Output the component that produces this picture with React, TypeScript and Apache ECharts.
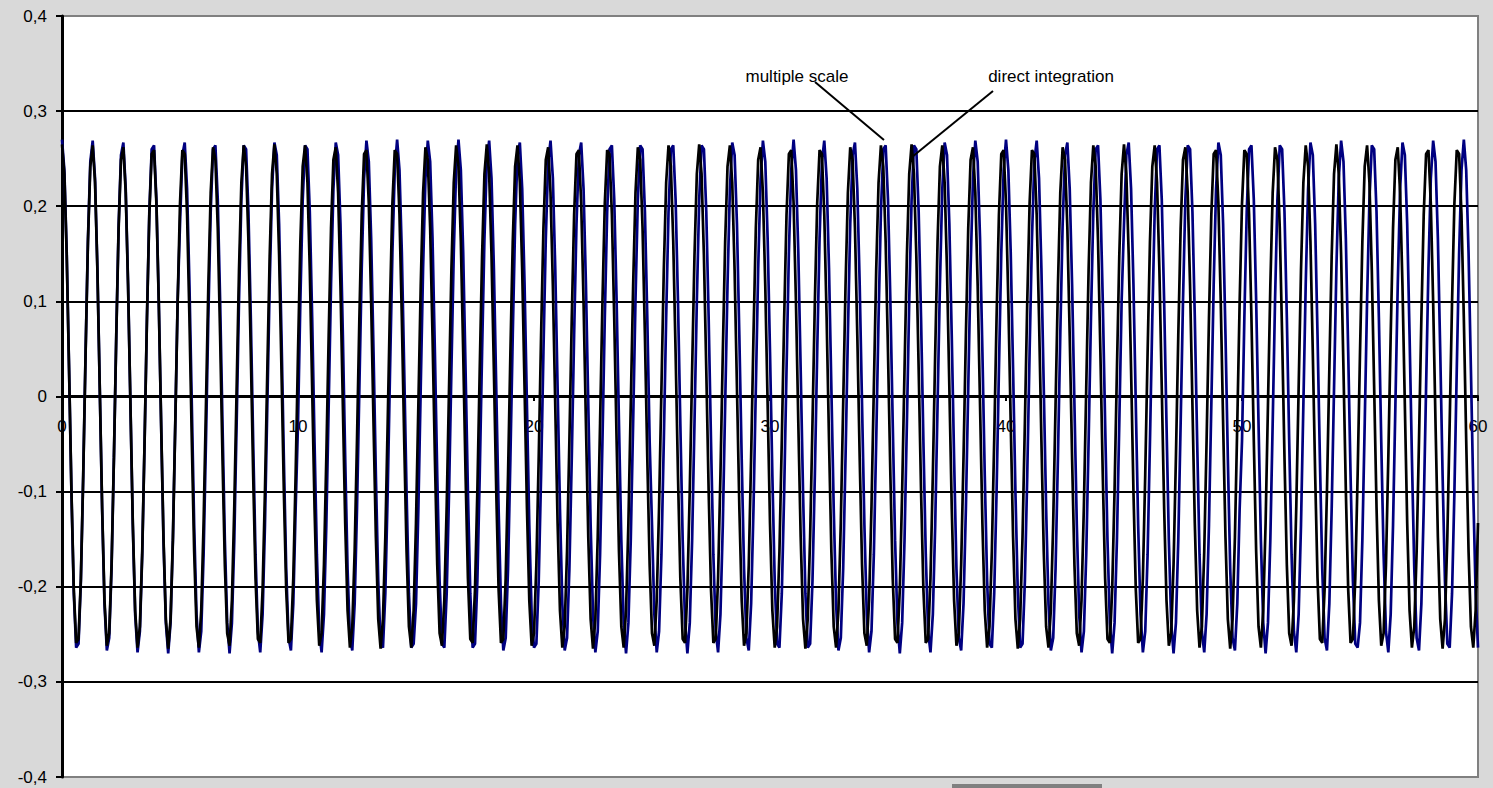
import React, { useEffect, useRef } from "react";
import * as echarts from "echarts";

// sample spacing of the plotted series (x units)
const T_STEP = 0.1;

const X_MIN = 0;
const X_MAX = 60;
const X_INTERVAL = 10;
const Y_MIN = -0.4;
const Y_MAX = 0.4;
const Y_INTERVAL = 0.1;

const ANNOTATIONS = ["multiple scale", "direct integration"];

// black curve, t = 0 .. 60 step 0.1
const BLACK_Y = [
  .265,.234,.148,.028,-.099,-.203,-.259,-.255,-.191,-.082,
  .046,.163,.242,.264,.225,.133,.009,-.116,-.214,-.262,
  -.249,-.177,-.064,.064,.177,.249,.262,.214,.116,-.009,
  -.133,-.225,-.264,-.242,-.163,-.046,.082,.191,.255,.259,
  .203,.099,-.028,-.148,-.234,-.265,-.234,-.148,-.028,.099,
  .203,.259,.255,.191,.082,-.046,-.163,-.242,-.264,-.225,
  -.133,-.009,.116,.214,.262,.249,.177,.064,-.064,-.177,
  -.249,-.262,-.214,-.116,.009,.133,.225,.264,.242,.163,
  .046,-.082,-.191,-.255,-.259,-.203,-.099,.028,.148,.234,
  .265,.234,.148,.028,-.099,-.203,-.259,-.255,-.191,-.082,
  .046,.163,.242,.264,.225,.133,.009,-.116,-.214,-.262,
  -.249,-.177,-.064,.064,.177,.249,.262,.214,.116,-.009,
  -.133,-.225,-.264,-.242,-.163,-.046,.082,.191,.255,.259,
  .203,.099,-.028,-.148,-.234,-.265,-.234,-.148,-.028,.099,
  .203,.259,.255,.191,.082,-.046,-.163,-.242,-.264,-.225,
  -.133,-.009,.116,.214,.262,.249,.177,.064,-.064,-.177,
  -.249,-.262,-.214,-.116,.009,.133,.225,.264,.242,.163,
  .046,-.082,-.191,-.255,-.259,-.203,-.099,.028,.148,.234,
  .265,.234,.148,.028,-.099,-.203,-.259,-.255,-.191,-.082,
  .046,.163,.242,.264,.225,.133,.009,-.116,-.214,-.262,
  -.249,-.177,-.064,.064,.177,.249,.262,.214,.116,-.009,
  -.133,-.225,-.264,-.242,-.163,-.046,.082,.191,.255,.259,
  .203,.099,-.028,-.148,-.234,-.265,-.234,-.148,-.028,.099,
  .203,.259,.255,.191,.082,-.046,-.163,-.242,-.264,-.225,
  -.133,-.009,.116,.214,.262,.249,.177,.064,-.064,-.177,
  -.249,-.262,-.214,-.116,.009,.133,.225,.264,.242,.163,
  .046,-.082,-.191,-.255,-.259,-.203,-.099,.028,.148,.234,
  .265,.234,.148,.028,-.099,-.203,-.259,-.255,-.191,-.082,
  .046,.163,.242,.264,.225,.133,.009,-.116,-.214,-.262,
  -.249,-.177,-.064,.064,.177,.249,.262,.214,.116,-.009,
  -.133,-.225,-.264,-.242,-.163,-.046,.082,.191,.255,.259,
  .203,.099,-.028,-.148,-.234,-.265,-.234,-.148,-.028,.099,
  .203,.259,.255,.191,.082,-.046,-.163,-.242,-.264,-.225,
  -.133,-.009,.116,.214,.262,.249,.177,.064,-.064,-.177,
  -.249,-.262,-.214,-.116,.009,.133,.225,.264,.242,.163,
  .046,-.082,-.191,-.255,-.259,-.203,-.099,.028,.148,.234,
  .265,.234,.148,.028,-.099,-.203,-.259,-.255,-.191,-.082,
  .046,.163,.242,.264,.225,.133,.009,-.116,-.214,-.262,
  -.249,-.177,-.064,.064,.177,.249,.262,.214,.116,-.009,
  -.133,-.225,-.264,-.242,-.163,-.046,.082,.191,.255,.259,
  .203,.099,-.028,-.148,-.234,-.265,-.234,-.148,-.028,.099,
  .203,.259,.255,.191,.082,-.046,-.163,-.242,-.264,-.225,
  -.133,-.009,.116,.214,.262,.249,.177,.064,-.064,-.177,
  -.249,-.262,-.214,-.116,.009,.133,.225,.264,.242,.163,
  .046,-.082,-.191,-.255,-.259,-.203,-.099,.028,.148,.234,
  .265,.234,.148,.028,-.099,-.203,-.259,-.255,-.191,-.082,
  .046,.163,.242,.264,.225,.133,.009,-.116,-.214,-.262,
  -.249,-.177,-.064,.064,.177,.249,.262,.214,.116,-.009,
  -.133,-.225,-.264,-.242,-.163,-.046,.082,.191,.255,.259,
  .203,.099,-.028,-.148,-.234,-.265,-.234,-.148,-.028,.099,
  .203,.259,.255,.191,.082,-.046,-.163,-.242,-.264,-.225,
  -.133,-.009,.116,.214,.262,.249,.177,.064,-.064,-.177,
  -.249,-.262,-.214,-.116,.009,.133,.225,.264,.242,.163,
  .046,-.082,-.191,-.255,-.259,-.203,-.099,.028,.148,.234,
  .265,.234,.148,.028,-.099,-.203,-.259,-.255,-.191,-.082,
  .046,.163,.242,.264,.225,.133,.009,-.116,-.214,-.262,
  -.249,-.177,-.064,.064,.177,.249,.262,.214,.116,-.009,
  -.133,-.225,-.264,-.242,-.163,-.046,.082,.191,.255,.259,
  .203,.099,-.028,-.148,-.234,-.265,-.234,-.148,-.028,.099,
  .203,.259,.255,.191,.082,-.046,-.163,-.242,-.264,-.225,
  -.133
];

// navy curve, t = 0 .. 60 step 0.1
const BLUE_Y = [
  .270,.238,.151,.028,-.101,-.207,-.264,-.260,-.194,-.083,
  .047,.166,.247,.269,.229,.135,.009,-.118,-.218,-.267,
  -.254,-.181,-.065,.065,.181,.254,.267,.218,.118,-.009,
  -.135,-.229,-.269,-.247,-.166,-.047,.083,.194,.260,.264,
  .207,.101,-.028,-.151,-.238,-.270,-.238,-.151,-.028,.101,
  .181,.254,.267,.218,.118,-.009,-.135,-.229,-.269,-.247,
  -.166,-.047,.083,.194,.260,.264,.207,.101,-.028,-.151,
  -.238,-.270,-.238,-.151,-.028,.101,.207,.264,.260,.194,
  .083,-.047,-.166,-.247,-.269,-.229,-.135,-.009,.118,.218,
  .267,.254,.181,.065,-.065,-.181,-.254,-.267,-.218,-.118,
  -.028,.101,.207,.264,.260,.194,.083,-.047,-.166,-.247,
  -.269,-.229,-.135,-.009,.118,.218,.267,.254,.181,.065,
  -.065,-.181,-.254,-.267,-.218,-.118,.009,.135,.229,.269,
  .247,.166,.047,-.083,-.194,-.260,-.264,-.207,-.101,.028,
  .151,.238,.270,.238,.151,.028,-.101,-.207,-.264,-.260,
  -.218,-.118,.009,.135,.229,.269,.247,.166,.047,-.083,
  -.194,-.260,-.264,-.207,-.101,.028,.151,.238,.270,.238,
  .151,.028,-.101,-.207,-.264,-.260,-.194,-.083,.047,.166,
  .247,.269,.229,.135,.009,-.118,-.218,-.267,-.254,-.181,
  -.065,.065,.181,.254,.267,.218,.118,-.009,-.135,-.229,
  -.264,-.260,-.194,-.083,.047,.166,.247,.269,.229,.135,
  .009,-.118,-.218,-.267,-.254,-.181,-.065,.065,.181,.254,
  .267,.218,.118,-.009,-.135,-.229,-.269,-.247,-.166,-.047,
  .083,.194,.260,.264,.207,.101,-.028,-.151,-.238,-.270,
  -.238,-.151,-.028,.101,.207,.264,.260,.194,.083,-.047,
  -.135,-.229,-.269,-.247,-.166,-.047,.083,.194,.260,.264,
  .207,.101,-.028,-.151,-.238,-.270,-.238,-.151,-.028,.101,
  .207,.264,.260,.194,.083,-.047,-.166,-.247,-.269,-.229,
  -.135,-.009,.118,.218,.267,.254,.181,.065,-.065,-.181,
  -.254,-.267,-.218,-.118,.009,.135,.229,.269,.247,.166,
  .047,-.083,-.194,-.260,-.264,-.207,-.101,.028,.151,.238,
  .270,.238,.151,.028,-.101,-.207,-.264,-.260,-.194,-.083,
  .047,.166,.247,.269,.229,.135,.009,-.118,-.218,-.267,
  -.254,-.181,-.065,.065,.181,.254,.267,.218,.118,-.009,
  -.135,-.229,-.269,-.247,-.166,-.047,.083,.194,.260,.264,
  .207,.101,-.028,-.151,-.238,-.270,-.238,-.151,-.028,.101,
  .207,.264,.260,.194,.083,-.047,-.166,-.247,-.269,-.229,
  -.135,-.009,.118,.218,.267,.254,.181,.065,-.065,-.181,
  -.254,-.267,-.218,-.118,.009,.135,.229,.269,.247,.166,
  .047,-.083,-.194,-.260,-.264,-.207,-.101,.028,.151,.238,
  .270,.238,.151,.028,-.101,-.207,-.264,-.260,-.194,-.083,
  .047,.166,.247,.269,.229,.135,.009,-.118,-.218,-.267,
  -.254,-.181,-.065,.065,.181,.254,.267,.218,.118,-.009,
  -.135,-.229,-.269,-.247,-.166,-.047,.083,.194,.260,.264,
  .207,.101,-.028,-.151,-.238,-.270,-.238,-.151,-.028,.101,
  .181,.254,.267,.218,.118,-.009,-.135,-.229,-.269,-.247,
  -.166,-.047,.083,.194,.260,.264,.207,.101,-.028,-.151,
  -.238,-.270,-.238,-.151,-.028,.101,.207,.264,.260,.194,
  .083,-.047,-.166,-.247,-.269,-.229,-.135,-.009,.118,.218,
  .267,.254,.181,.065,-.065,-.181,-.254,-.267,-.218,-.118,
  -.047,.083,.194,.260,.264,.207,.101,-.028,-.151,-.238,
  -.270,-.238,-.151,-.028,.101,.207,.264,.260,.194,.083,
  -.047,-.166,-.247,-.269,-.229,-.135,-.009,.118,.218,.267,
  .254,.181,.065,-.065,-.181,-.254,-.267,-.218,-.118,.009,
  .135,.229,.269,.247,.166,.047,-.083,-.194,-.260,-.264,
  -.238,-.151,-.028,.101,.207,.264,.260,.194,.083,-.047,
  -.166,-.247,-.269,-.229,-.135,-.009,.118,.218,.267,.254,
  .181,.065,-.065,-.181,-.254,-.267,-.218,-.118,.009,.135,
  .229,.269,.247,.166,.047,-.083,-.194,-.260,-.264,-.207,
  -.101,.028,.151,.238,.270,.238,.151,.028,-.101,-.207,
  -.264
];

const FONT = "'Liberation Sans', Arial, sans-serif";

// layout of the plot area (px)
const GRID_LEFT = 62;
const GRID_TOP = 16;
const GRID_RIGHT = 15;
const GRID_BOTTOM = 11;
const CHART_H = 788;
const PLOT_H = CHART_H - GRID_TOP - GRID_BOTTOM;
// x axis crosses the y axis at 0: distance from bottom edge to the zero line
const ZERO_OFFSET = Math.round(PLOT_H * (0 - Y_MIN) / (Y_MAX - Y_MIN));

function toPairs(ys: number[]) {
  return ys.map((y, i) => [Math.round(i * T_STEP * 10) / 10, y]);
}

function fmtY(v: number) {
  const r = Math.round(v * 10) / 10;
  if (r === 0) return "0";
  return r.toFixed(1).replace(".", ",");
}

export default function App() {
  const ref = useRef<HTMLDivElement | null>(null);

  useEffect(() => {
    if (!ref.current) return;
    const chart = echarts.init(ref.current, undefined, { renderer: "svg" });

    const splitColors = ["#808080", "#000", "#000", "#000", "#000", "#000", "#000", "#000", "#808080"];

    chart.setOption({
      animation: false,
      backgroundColor: "#D9D9D9",
      textStyle: { fontFamily: FONT },
      grid: {
        left: GRID_LEFT,
        top: GRID_TOP,
        right: GRID_RIGHT,
        bottom: GRID_BOTTOM,
        outerBoundsMode: "none",
        containLabel: false,
        show: true,
        backgroundColor: "#ffffff",
        borderColor: "#808080",
        borderWidth: 2,
      },
      xAxis: {
        type: "value",
        min: X_MIN,
        max: X_MAX,
        interval: X_INTERVAL,
        position: "bottom",
        offset: -ZERO_OFFSET,
        axisLine: { show: true, onZero: false, lineStyle: { color: "#000", width: 2 } },
        axisTick: { show: true, length: 5, lineStyle: { color: "#000", width: 2 } },
        axisLabel: {
          color: "#000",
          fontSize: 17,
          fontFamily: FONT,
          margin: 22,
          showMinLabel: true,
          showMaxLabel: true,
        },
        splitLine: { show: false },
      },
      yAxis: {
        type: "value",
        min: Y_MIN,
        max: Y_MAX,
        interval: Y_INTERVAL,
        axisLine: { show: true, onZero: false, lineStyle: { color: "#000", width: 3 } },
        axisTick: { show: true, length: 6, lineStyle: { color: "#000", width: 2 } },
        axisLabel: {
          color: "#000",
          fontSize: 17,
          fontFamily: FONT,
          margin: 15,
          formatter: fmtY,
        },
        splitLine: { show: true, lineStyle: { color: splitColors, width: 2 } },
      },
      series: [
        {
          name: ANNOTATIONS[0],
          type: "line",
          data: toPairs(BLUE_Y),
          showSymbol: false,
          symbol: "none",
          lineStyle: { color: "#000080", width: 2.7 },
          z: 3,
          silent: true,
        },
        {
          name: ANNOTATIONS[1],
          type: "line",
          data: toPairs(BLACK_Y),
          showSymbol: false,
          symbol: "none",
          lineStyle: { color: "#000000", width: 2.7 },
          z: 4,
          silent: true,
        },
      ],
      graphic: [
        {
          type: "text",
          x: 797,
          y: 76,
          z: 10,
          style: {
            text: ANNOTATIONS[0],
            fontSize: 17,
            fontFamily: FONT,
            fill: "#000",
            align: "center",
            verticalAlign: "middle",
          },
        },
        {
          type: "text",
          x: 1051,
          y: 76,
          z: 10,
          style: {
            text: ANNOTATIONS[1],
            fontSize: 17,
            fontFamily: FONT,
            fill: "#000",
            align: "center",
            verticalAlign: "middle",
          },
        },
        {
          type: "line",
          z: 10,
          shape: { x1: 815, y1: 82, x2: 884, y2: 140 },
          style: { stroke: "#000", lineWidth: 2 },
        },
        {
          type: "line",
          z: 10,
          shape: { x1: 993, y1: 91, x2: 912, y2: 157 },
          style: { stroke: "#000", lineWidth: 2 },
        },
        {
          type: "rect",
          z: 10,
          shape: { x: 952, y: 784, width: 150, height: 4 },
          style: { fill: "#808080" },
        },
      ],
    });

    return () => {
      chart.dispose();
    };
  }, []);

  return (
    <div
      ref={ref}
      style={{ position: "fixed", left: 0, top: 0, width: 1493, height: 788 }}
    />
  );
}
